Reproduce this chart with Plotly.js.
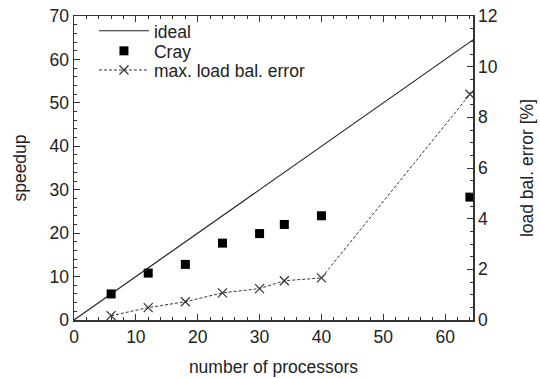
<!DOCTYPE html>
<html>
<head>
<meta charset="utf-8">
<script src="https://cdn.plot.ly/plotly-3.0.1.min.js"></script>
<style>html,body{margin:0;padding:0;background:#fff;}#chart{width:540px;height:378px;}</style>
</head>
<body>
<div id="chart"></div>
<script>
var idealX = [0, 65];
var idealY = [0, 65];
var processors = [6, 12, 18, 24, 30, 34, 40, 64];
var craySpeedup = [6.0, 10.8, 12.8, 17.7, 19.9, 22.0, 24.0, 28.3];
var loadBalError = [0.17, 0.49, 0.72, 1.07, 1.24, 1.55, 1.66, 8.91];
var xTicks = [0, 10, 20, 30, 40, 50, 60];
var yTicks = [0, 10, 20, 30, 40, 50, 60, 70];
var y2Ticks = [0, 2, 4, 6, 8, 10, 12];

var fontFam = 'Liberation Sans, Arial, sans-serif';
var txt = '#222';
var axc = '#333';
var fs = 17.5;

var traces = [
  {x: idealX, y: idealY, mode: 'lines', name: 'ideal', legend: 'legend',
   line: {color: '#222', width: 1.2}},
  {x: processors, y: craySpeedup, mode: 'markers', name: 'Cray', legend: 'legend2',
   marker: {symbol: 'square', size: 9, color: '#000'}},
  {x: processors, y: loadBalError, mode: 'lines+markers', name: 'max. load bal. error',
   yaxis: 'y2', legend: 'legend3',
   line: {color: '#333', width: 1, dash: '3px,2px'},
   marker: {symbol: 'x-thin', size: 9, line: {color: '#333', width: 1.2}}}
];

function leg(yc) {
  return {x: 0.05, y: yc, xanchor: 'left', yanchor: 'middle',
          bgcolor: 'rgba(0,0,0,0)', font: {size: fs, color: txt},
          itemwidth: 50, borderwidth: 0};
}

var layout = {
  width: 540, height: 378,
  margin: {l: 74, r: 67, t: 16, b: 58},
  paper_bgcolor: '#fff', plot_bgcolor: '#fff',
  font: {family: fontFam, size: fs, color: txt},
  showlegend: true,
  legend: leg(0.951),
  legend2: leg(0.885),
  legend3: leg(0.822),
  xaxis: {range: [0, 64.5], tickvals: xTicks, ticks: 'inside', ticklen: 6,
          tickcolor: axc, showline: true, linecolor: axc, linewidth: 1.5,
          mirror: 'ticks', showgrid: false, zeroline: false,
          minor: {dtick: 2, ticks: 'inside', ticklen: 3, tickcolor: axc, showgrid: false},
          title: {text: 'number of processors', font: {size: fs}, standoff: 15}},
  yaxis: {range: [0, 70], tickvals: yTicks, ticks: 'inside', ticklen: 6,
          tickcolor: axc, showline: true, linecolor: axc, linewidth: 1.5,
          showgrid: false, zeroline: false,
          minor: {dtick: 2, ticks: 'inside', ticklen: 3, tickcolor: axc, showgrid: false},
          title: {text: 'speedup', font: {size: fs}, standoff: 18}},
  yaxis2: {range: [0, 12], tickvals: y2Ticks, overlaying: 'y', side: 'right',
           ticks: 'inside', ticklen: 6, tickcolor: axc, showline: true,
           linecolor: axc, linewidth: 1.5, showgrid: false, zeroline: false,
           minor: {dtick: 0.5, ticks: 'inside', ticklen: 3, tickcolor: axc, showgrid: false},
           title: {text: 'load bal. error [%]', font: {size: fs}, standoff: 24}}
};

Plotly.newPlot('chart', traces, layout, {displayModeBar: false, staticPlot: true});
</script>
</body>
</html>
